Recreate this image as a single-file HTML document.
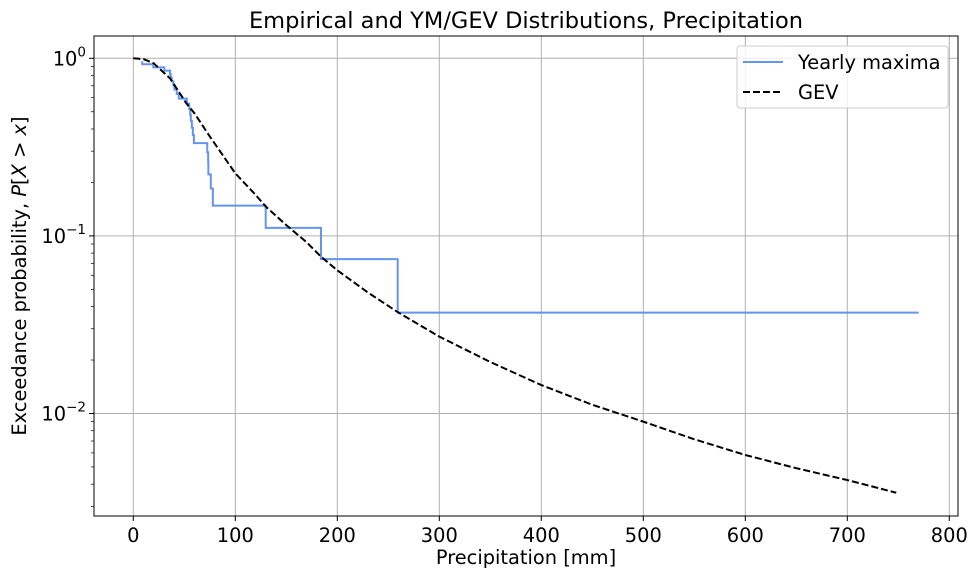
<!DOCTYPE html>
<html><head><meta charset="utf-8"><style>
body{margin:0;background:#fff;}
svg{display:block;font-family:"DejaVu Sans","Liberation Sans",sans-serif;}
</style></head><body>
<svg id="chart" width="976" height="578" viewBox="0 0 976 578">
<rect width="976" height="578" fill="#fff"/>
<text x="526" y="28" font-size="22.5" text-anchor="middle">Empirical and YM/GEV Distributions, Precipitation</text>
<g id="grid"></g>
<g id="series"></g>
<rect x="94" y="36" width="864" height="480" fill="none" stroke="#000" stroke-width="1"/>
<g id="axes"></g>
<text x="526" y="564" font-size="19.4" text-anchor="middle">Precipitation [mm]</text>
<text transform="translate(26,276) rotate(-90)" font-size="19.4" text-anchor="middle">Exceedance probability, <tspan font-style="italic">P</tspan>[<tspan font-style="italic">X</tspan> &gt; <tspan font-style="italic">x</tspan>]</text>
<g>
<rect x="737" y="46" width="211" height="62" rx="3" fill="#fff" fill-opacity="0.8" stroke="#ccc"/>
<line x1="743" y1="62" x2="783" y2="62" stroke="#6495ED" stroke-width="2"/>
<text x="798" y="69" font-size="19.4">Yearly maxima</text>
<line x1="743" y1="92" x2="783" y2="92" stroke="#000" stroke-width="2" stroke-dasharray="7,3"/>
<text x="798" y="99" font-size="19.4">GEV</text>
</g>
</svg>
<script>
const precip = [8.8,19.6,30.4,36.0,36.7,37.7,39.3,40.3,42.6,44.6,52.5,54.8,55.8,56.4,57.4,58.4,59.4,72.5,73.4,73.6,76.0,78.0,129.8,184.0,259.2,770];
const empProb = [0.963,0.926,0.889,0.852,0.815,0.778,0.741,0.704,0.667,0.630,0.593,0.556,0.519,0.481,0.444,0.407,0.370,0.333,0.296,0.259,0.222,0.185,0.148,0.111,0.074,0.037];
const gevX = [0,10,20,36,52,60,75,85,100,120,130,150,170,184,200,230,260,300,350,400,450,500,550,600,650,700,748];
const gevP = [1.0,0.99,0.937,0.771,0.558,0.49,0.363,0.30,0.225,0.17,0.146,0.115,0.092,0.0764,0.064,0.048,0.037,0.0271,0.0195,0.01446,0.0112,0.0090,0.00716,0.00584,0.00492,0.00422,0.00358];
const xTicks = [0,100,200,300,400,500,600,700,800];
const yExps = [0,-1,-2];

const NS='http://www.w3.org/2000/svg';
const X0=133.3, XS=1.02, Y0=58.3, DEC=177.6;
const L=94,R=958,T=36,B=516;
function sx(v){return X0+v*XS;}
function sy(p){return Y0-Math.log10(p)*DEC;}
function mk(tag,attrs,parent){const e=document.createElementNS(NS,tag);for(const k in attrs)e.setAttribute(k,attrs[k]);parent.appendChild(e);return e;}
const grid=document.getElementById('grid'), axes=document.getElementById('axes'), series=document.getElementById('series');

xTicks.forEach(v=>{
  const x=sx(v);
  const g=mk('line',{x1:x,x2:x,y1:T,y2:B,stroke:'#b0b0b0','stroke-width':1},grid);
  
  
  const t=mk('line',{x1:x,x2:x,y1:B,y2:B+5,stroke:'#000','stroke-width':1},axes);
  
  
  const l=mk('text',{x:x,y:B+26,'font-size':19.4,'text-anchor':'middle'},axes);
  l.textContent=v;
  
  
});
yExps.forEach(e=>{
  const y=sy(Math.pow(10,e));
  const g=mk('line',{x1:L,x2:R,y1:y,y2:y,stroke:'#b0b0b0','stroke-width':1},grid);
  
  
  const t=mk('line',{x1:L-5,x2:L,y1:y,y2:y,stroke:'#000','stroke-width':1},axes);
  
  
  const l=mk('text',{x:L-8,y:y+7,'font-size':19.4,'text-anchor':'end'},axes);
  l.innerHTML='10<tspan dy="-9" font-size="13.5">'+(e<0?'\u2212'+(-e):e)+'</tspan>';
  
  
});
for(let e=0;e>=-3;e--){for(let m=2;m<=9;m++){
  const p=m*Math.pow(10,e-1);const y=sy(p);
  if(y<T||y>B)continue;
  const t=mk('line',{x1:L-3,x2:L,y1:y,y2:y,stroke:'#000','stroke-width':0.7},axes);
  
  
}}
let d='M'+sx(precip[0])+','+sy(empProb[0]);
for(let i=1;i<precip.length;i++){d+=' V'+sy(empProb[i])+' H'+sx(precip[i]);}
const emp=mk('path',{d:d,fill:'none',stroke:'#6495ED','stroke-width':2},series);


const pts=gevX.map((v,i)=>sx(v)+','+sy(gevP[i])).join(' ');
const gev=mk('polyline',{points:pts,fill:'none',stroke:'#000','stroke-width':2,'stroke-dasharray':'7,3','stroke-linejoin':'round'},series);


</script>
</body></html>
